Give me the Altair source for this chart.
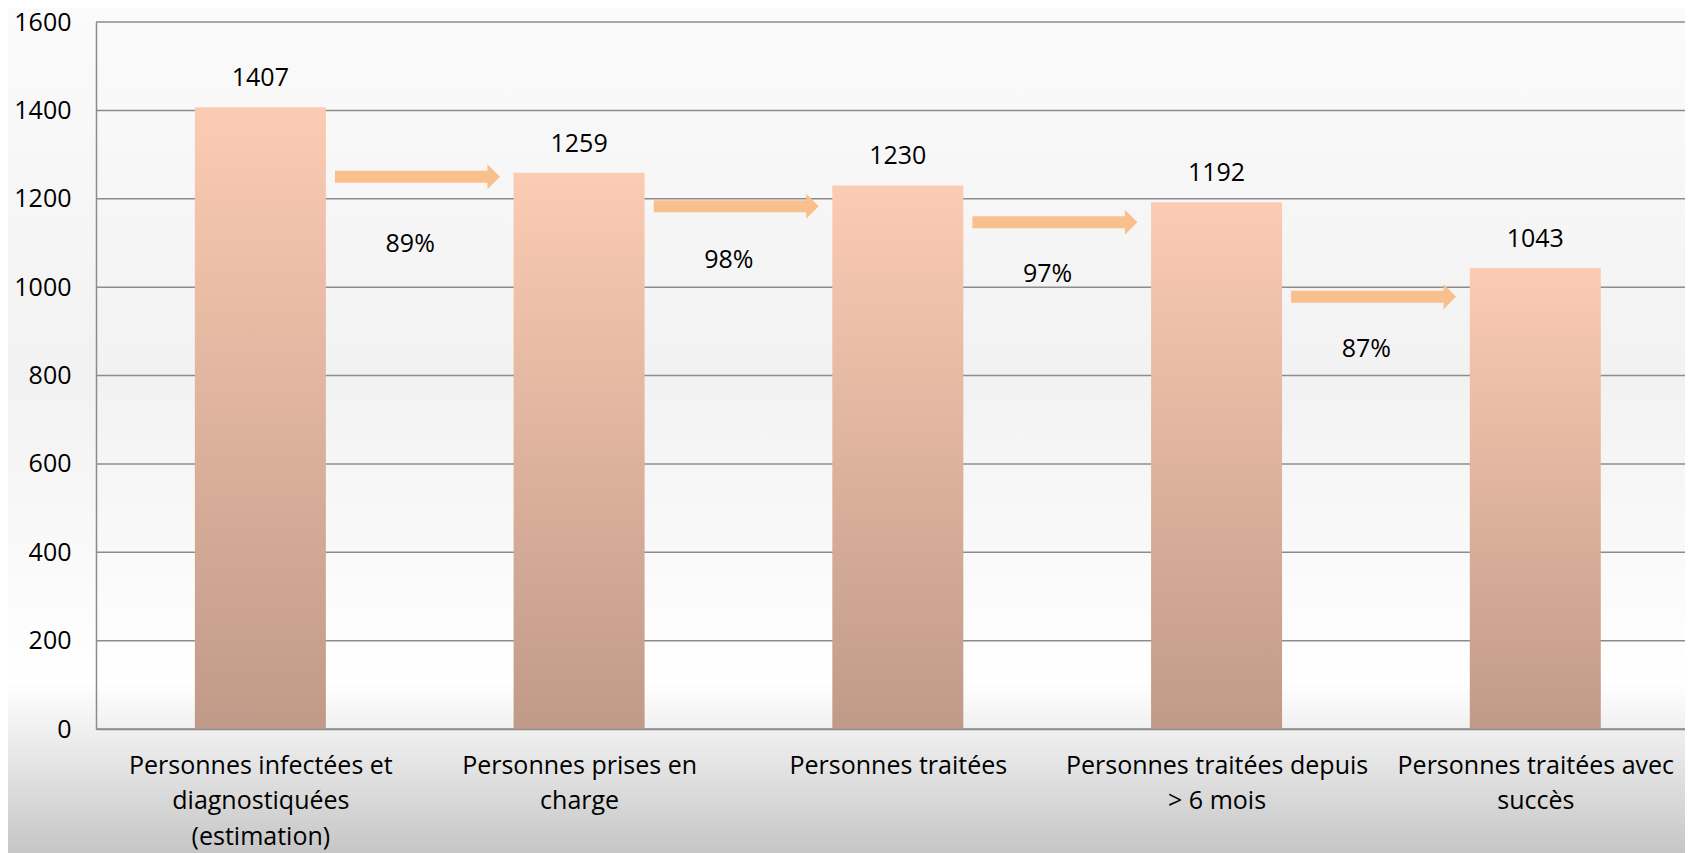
import json
import altair as alt
import pandas as pd

# ---- data ----
categories = [
    "Personnes infectées et|diagnostiquées|(estimation)",
    "Personnes prises en|charge",
    "Personnes traitées",
    "Personnes traitées depuis|> 6 mois",
    "Personnes traitées avec|succès",
]
values = [1407, 1259, 1230, 1192, 1043]
arrow_levels = [1250, 1183, 1147, 978]
pct_labels = ["89%", "98%", "97%", "87%"]
pct_levels = [1097, 1061, 1029, 860]
y_ticks = [0, 200, 400, 600, 800, 1000, 1200, 1400, 1600]

# ---- layout constants ----
W, H = 1589, 707
PAD = {"left": 88, "top": 14, "right": 0, "bottom": 124}
STEP_PX = 320.75
X_DOMAIN = [-0.5, -0.5 + W / STEP_PX]
FONT = "Open Sans"
FS = 25

bars = pd.DataFrame({"idx": list(range(len(values))), "value": values,
                     "cat": categories})
arrows = pd.DataFrame({
    "x0": [i + 0.234 for i in range(len(arrow_levels))],
    "x1": [i + 0.732 for i in range(len(arrow_levels))],
    "y": arrow_levels,
})
pcts = pd.DataFrame({
    "x": [i + 0.47 for i in range(len(pct_labels))],
    "y": pct_levels,
    "label": pct_labels,
})
grid = pd.DataFrame({"v": y_ticks})

label_array = "[" + ",".join(json.dumps(c, ensure_ascii=False) for c in categories) + "]"
label_expr = f"split({label_array}[datum.value], '|')"

xscale = alt.Scale(domain=X_DOMAIN, nice=False, zero=False)
yscale = alt.Scale(domain=[0, 1600], nice=False)

bg_grad = alt.LinearGradient(
    gradient="linear", x1=0, y1=0, x2=0, y2=1,
    stops=[
        alt.GradientStop(offset=0.0, color="#fbfbfb"),
        alt.GradientStop(offset=0.45, color="#f2f2f2"),
        alt.GradientStop(offset=0.80, color="#ffffff"),
        alt.GradientStop(offset=0.845, color="#f3f3f3"),
        alt.GradientStop(offset=1.0, color="#c6c6c6"),
    ],
)
background = alt.Chart(alt.Data(values=[{"a": 1}])).mark_rect(
    color=bg_grad
).encode(
    x=alt.value(-PAD["left"] - 10),
    x2=alt.value(W + 10),
    y=alt.value(-PAD["top"] - 10),
    y2=alt.value(H + PAD["bottom"]),
)

gridlines = alt.Chart(grid).mark_rule(color="#8c8c8c", strokeWidth=1.5).encode(
    y=alt.Y("v:Q", scale=yscale),
)

bar_grad = alt.LinearGradient(
    gradient="linear", x1=0, y1=0, x2=0, y2=1,
    stops=[
        alt.GradientStop(offset=0.0, color="#fccbb3"),
        alt.GradientStop(offset=1.0, color="#c09a88"),
    ],
)
bar_layer = alt.Chart(bars).mark_bar(color=bar_grad, width=131).encode(
    x=alt.X("idx:Q", scale=xscale,
            axis=alt.Axis(values=list(range(len(values))), labelExpr=label_expr,
                          title=None, grid=False, ticks=False, domain=True,
                          domainColor="#8c8c8c", domainWidth=1.5,
                          labelFont=FONT, labelFontSize=FS, labelColor="#000000",
                          labelLineHeight=35.5, labelPadding=24, labelBaseline="top",
                          labelAlign="center", labelFlush=False, labelOverlap=False,
                          labelLimit=0, zindex=1)),
    y=alt.Y("value:Q", scale=yscale,
            axis=alt.Axis(values=y_ticks, format="d", title=None, grid=False,
                          ticks=False, domain=True, domainColor="#8c8c8c",
                          domainWidth=1.5, labelFont=FONT, labelFontSize=FS,
                          labelColor="#000000", labelPadding=25, zindex=1)),
)

bar_text = alt.Chart(bars).mark_text(
    font=FONT, fontSize=FS, color="#000000", baseline="middle", dy=-29
).encode(
    x=alt.X("idx:Q", scale=xscale),
    y=alt.Y("value:Q", scale=yscale),
    text=alt.Text("value:Q", format="d"),
)

arrow_body = alt.Chart(arrows).mark_rule(
    color="#f9bf8d", strokeWidth=12, strokeCap="butt"
).encode(
    x=alt.X("x0:Q", scale=xscale),
    x2="x1:Q",
    y=alt.Y("y:Q", scale=yscale),
)
arrow_head = alt.Chart(arrows).mark_point(
    shape="M-0.5,-1L0.5,0L-0.5,1Z", filled=True, color="#f9bf8d",
    opacity=1, size=625, strokeWidth=0
).encode(
    x=alt.X("x1:Q", scale=xscale),
    y=alt.Y("y:Q", scale=yscale),
)

pct_text = alt.Chart(pcts).mark_text(
    font=FONT, fontSize=FS, color="#000000", baseline="middle"
).encode(
    x=alt.X("x:Q", scale=xscale),
    y=alt.Y("y:Q", scale=yscale),
    text="label:N",
)

chart = alt.layer(
    background, gridlines, bar_layer, bar_text, arrow_body, arrow_head, pct_text
).properties(
    width=W, height=H,
    autosize=alt.AutoSizeParams(type="none"),
    padding=PAD,
    background="#fbfbfb",
).configure_view(stroke=None)

chart.save("out.html", embed_options={"renderer": "svg", "actions": False})
